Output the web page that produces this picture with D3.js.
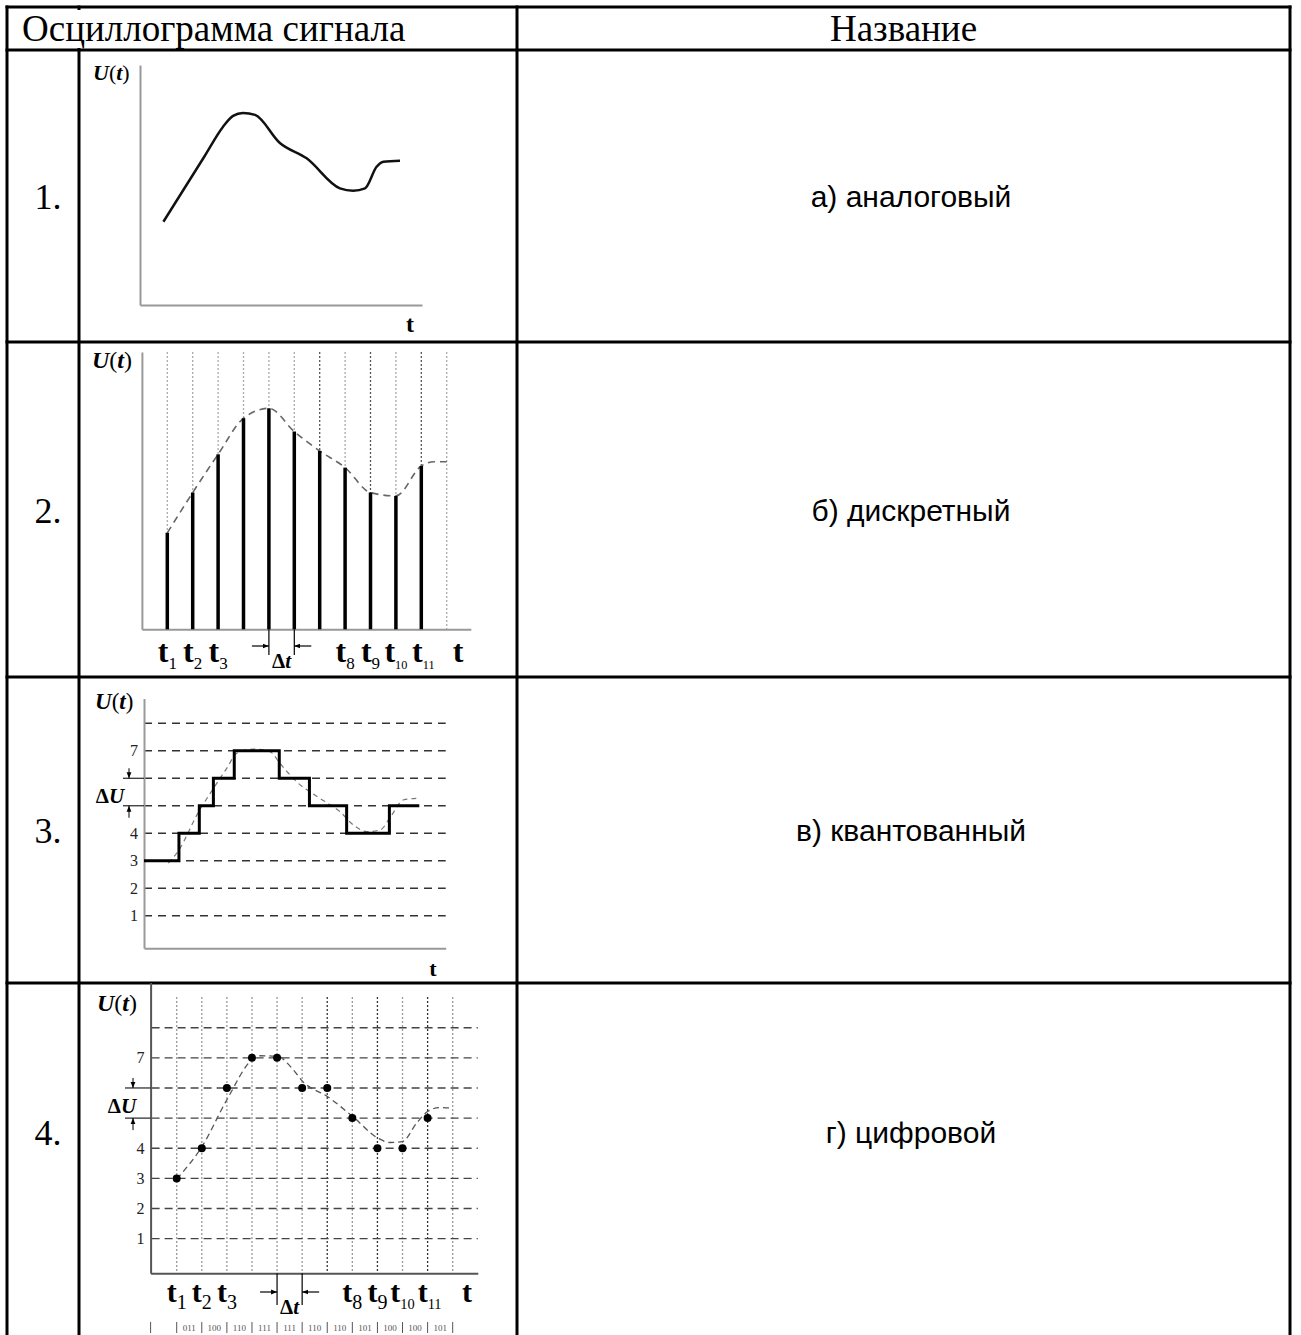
<!DOCTYPE html>
<html>
<head>
<meta charset="utf-8">
<script src="https://cdn.jsdelivr.net/npm/d3@7"></script>
<style>
  body { margin: 0; background: #fff; }
  svg { display: block; }
  text { font-family: "Liberation Serif", "Times New Roman", serif; }
</style>
</head>
<body>
<div id="chart"></div>
<script>
// table text
var headers = ["Осциллограмма сигнала", "Название"];
var rowNumbers = ["1.", "2.", "3.", "4."];
var signalNames = ["а) аналоговый", "б) дискретный", "в) квантованный", "г) цифровой"];

// 1. analog signal
var analogT = [0.83, 2.30, 2.94, 3.30, 3.65, 4.08, 4.96, 5.91, 7.09, 7.56, 7.98, 8.39, 8.63, 9.22];
var analogU = [3.47, 6.22, 7.42, 7.88, 8.00, 7.92, 6.75, 6.11, 4.86, 4.76, 4.86, 5.76, 5.97, 6.01];

// 2. sampled signal
var sampleIdx = [1, 2, 3, 4, 5, 6, 7, 8, 9, 10, 11];
var sampleU = [3.48, 4.93, 6.31, 7.61, 7.97, 7.13, 6.43, 5.83, 4.93, 4.81, 5.89];
var sampleTailT = [11.5, 12];
var sampleTailU = [6.04, 6.04];
var gridIdx = [1, 2, 3, 4, 5, 6, 7, 8, 9, 10, 11, 12];
var darkIdx = [7, 9, 11];
var tickIdx = [1, 2, 3, 8, 9, 10, 11];
var tickSub = ["1", "2", "3", "8", "9", "10", "11"];

// 3. quantized signal
var levels = [1, 2, 3, 4, 5, 6, 7, 8];
var levelLabels = [1, 2, 3, 4, 7];
var stepEdges = [0, 1.39, 2.2, 2.76, 3.59, 5.38, 6.58, 8.06, 9.76, 10.95];
var stepLevels = [3, 4, 5, 6, 7, 6, 5, 4, 5, 5];
var quantCurveT = [0.97, 1.43, 2.10, 2.76, 3.29, 3.69, 4.35, 5.01, 5.41, 6.07, 7.0, 7.8, 8.33, 8.86, 9.39, 9.85, 10.31, 10.85];
var quantCurveU = [2.91, 3.45, 4.66, 5.63, 6.36, 6.91, 7.06, 6.97, 6.54, 5.87, 5.27, 4.78, 4.30, 4.06, 4.12, 4.66, 5.21, 5.27];

// 4. digital signal
var digitalU = [3, 4, 6, 7, 7, 6, 6, 5, 4, 4, 5];
var digitalCodes = ["011", "100", "110", "111", "111", "110", "110", "101", "100", "100", "101"];
var digCurveT = [1.0, 2.01, 3.0, 4.01, 4.32, 5.01, 5.65, 6.02, 7.0, 8.02, 9.01, 9.5, 9.99, 10.56, 11.0, 11.49, 11.96];
var digCurveU = [2.98, 4.06, 5.61, 6.94, 7.07, 7.05, 6.6, 6.22, 5.72, 5.05, 4.34, 4.19, 4.22, 4.83, 5.22, 5.35, 5.33];

var W = 1301, H = 1335;
var colX = [7, 79, 517, 1290];
var rowY = [7, 50, 342, 677, 983, 1345];

var svg = d3.select("#chart").append("svg")
  .attr("width", W).attr("height", H);
svg.append("rect").attr("width", W).attr("height", H).attr("fill", "#fff");

var defs = svg.append("defs");
defs.append("marker").attr("id", "arr")
  .attr("viewBox", "0 0 10 10").attr("refX", 10).attr("refY", 5)
  .attr("markerWidth", 6).attr("markerHeight", 6).attr("orient", "auto-start-reverse")
  .attr("markerUnits", "userSpaceOnUse")
  .append("path").attr("d", "M0,1L10,5L0,9Z").attr("fill", "#000");

// ---------- table ----------
var table = svg.append("g");
colX.forEach(function (x, i) {
  table.append("line").attr("x1", x).attr("x2", x)
    .attr("y1", rowY[0] - 1.5).attr("y2", H + 5)
    .attr("stroke", "#000").attr("stroke-width", 3);
});
rowY.forEach(function (y, i) {
  table.append("line").attr("x1", colX[0] - 1.5).attr("x2", colX[3] + 1.5)
    .attr("y1", y).attr("y2", y)
    .attr("stroke", "#000").attr("stroke-width", 3);
});
// header row spans first two columns
table.append("rect").attr("x", colX[1] - 3).attr("y", rowY[0] + 3)
  .attr("width", 6).attr("height", rowY[1] - rowY[0] - 5).attr("fill", "#fff");

table.append("text").attr("x", 22).attr("y", 41)
  .attr("font-size", 37).text(headers[0]);
table.append("text").attr("x", (colX[2] + colX[3]) / 2).attr("y", 41)
  .attr("text-anchor", "middle").attr("font-size", 37).text(headers[1]);

rowNumbers.forEach(function (d, i) {
  var cy = (rowY[i + 1] + rowY[i + 2]) / 2;
  if (i == 3) cy = 1132;
  table.append("text").attr("x", 48).attr("y", cy + 13)
    .attr("text-anchor", "middle").attr("font-size", 36).text(d);
  table.append("text").attr("x", 911).attr("y", cy + 11)
    .attr("text-anchor", "middle").attr("font-size", 30)
    .style("font-family", "'Liberation Sans', Arial, sans-serif").text(signalNames[i]);
});

// ---------- helpers ----------
function axes(g, x, y, x0, x1, y0, y1, color, width) {
  var xs = d3.scaleLinear().domain([x0, x1]).range([x(x0), x(x1)]);
  var ys = d3.scaleLinear().domain([y0, y1]).range([y(y0), y(y1)]);
  g.append("g").attr("class", "ax").attr("transform", "translate(0," + y(y0) + ")")
    .call(d3.axisBottom(xs).tickValues([]).tickSizeOuter(0));
  g.append("g").attr("class", "ax").attr("transform", "translate(" + x(x0) + ",0)")
    .call(d3.axisLeft(ys).tickValues([]).tickSizeOuter(0));
  g.selectAll(".ax .domain").attr("stroke", color).attr("stroke-width", width);
}

function uLabel(g, x, y, size) {
  var t = g.append("text").attr("x", x).attr("y", y).attr("font-size", size)
    .attr("font-weight", "bold").attr("font-style", "italic");
  t.append("tspan").text("U");
  t.append("tspan").attr("font-style", "normal").attr("font-weight", "normal").text("(");
  t.append("tspan").text("t");
  t.append("tspan").attr("font-style", "normal").attr("font-weight", "normal").text(")");
}

function tLabels(g, x, baseline, size, subSize, lastX) {
  tickIdx.forEach(function (d, i) {
    var small = tickSub[i].length > 1;
    var t = g.append("text").attr("x", x(d) + (d == 11 ? 2 : 0)).attr("y", baseline)
      .attr("text-anchor", "middle").attr("font-size", size).attr("font-weight", "bold");
    t.append("tspan").text("t");
    t.append("tspan").attr("font-size", small ? subSize * 0.72 : subSize).attr("font-weight", "normal")
      .attr("dy", size * 0.22).text(tickSub[i]);
  });
  g.append("text").attr("x", lastX).attr("y", baseline).attr("text-anchor", "middle")
    .attr("font-size", size).attr("font-weight", "bold").text("t");
}

function deltaT(g, x, yAxis, yEnd, yArrow, baseline, size) {
  [5, 6].forEach(function (d, i) {
    g.append("line").attr("x1", x(d)).attr("x2", x(d)).attr("y1", yAxis).attr("y2", yEnd)
      .attr("stroke", "#000").attr("stroke-width", 1.2);
    var from = i == 0 ? x(d) - 17 : x(d) + 17;
    g.append("line").attr("x1", from).attr("x2", x(d)).attr("y1", yArrow).attr("y2", yArrow)
      .attr("stroke", "#000").attr("stroke-width", 1.2).attr("marker-end", "url(#arr)");
  });
  var t = g.append("text").attr("x", (x(5) + x(6)) / 2).attr("y", baseline)
    .attr("text-anchor", "middle").attr("font-size", size).attr("font-weight", "bold");
  t.append("tspan").text("Δ");
  t.append("tspan").attr("font-style", "italic").text("t");
}

function deltaU(g, y, xLine0, xAxis, xArrow, labelX, baseline, size) {
  [5, 6].forEach(function (d) {
    g.append("line").attr("x1", xLine0).attr("x2", xAxis).attr("y1", y(d)).attr("y2", y(d))
      .attr("stroke", "#222").attr("stroke-width", 1.2);
  });
  g.append("line").attr("x1", xArrow).attr("x2", xArrow).attr("y1", y(6) - 10).attr("y2", y(6))
    .attr("stroke", "#000").attr("stroke-width", 1).attr("marker-end", "url(#arr)");
  g.append("line").attr("x1", xArrow).attr("x2", xArrow).attr("y1", y(5) + 12).attr("y2", y(5))
    .attr("stroke", "#000").attr("stroke-width", 1).attr("marker-end", "url(#arr)");
  var t = g.append("text").attr("x", labelX).attr("y", baseline)
    .attr("text-anchor", "middle").attr("font-size", size).attr("font-weight", "bold");
  t.append("tspan").text("Δ");
  t.append("tspan").attr("font-style", "italic").text("U");
}

function levelTicks(g, y, xAxis, size) {
  g.append("g").attr("transform", "translate(" + xAxis + ",0)")
    .call(d3.axisLeft(y).tickValues(levelLabels).tickSize(0).tickPadding(4).tickFormat(d3.format("d")))
    .call(function (a) { a.select(".domain").remove(); })
    .selectAll("text").attr("font-size", size).attr("fill", "#222")
    .style("font-family", "'Liberation Serif', serif");
}

// ---------- 1. analog ----------
var g1 = svg.append("g");
var x1 = d3.scaleLinear().domain([0, 10]).range([140, 422]);
var y1 = d3.scaleLinear().domain([0, 10]).range([305, 65]);
axes(g1, x1, y1, 0, 10, 0, 10, "#999", 2);
g1.append("path").datum(analogT.map(function (t, i) { return [t, analogU[i]]; }))
  .attr("fill", "none").attr("stroke", "#111").attr("stroke-width", 2.5)
  .attr("d", d3.line().x(function (d) { return x1(d[0]); }).y(function (d) { return y1(d[1]); })
    .curve(d3.curveMonotoneX));
uLabel(g1, 93, 80, 22);
g1.append("text").attr("x", 410).attr("y", 332).attr("text-anchor", "middle")
  .attr("font-size", 24).attr("font-weight", "bold").text("t");

// ---------- 2. sampled ----------
var g2 = svg.append("g");
var x2 = d3.scaleLinear().domain([1, 12]).range([167.3, 446.7]);
var y2 = d3.scaleLinear().domain([0, 10]).range([629.3, 352]);
g2.selectAll(".vg").data(gridIdx).enter().append("line")
  .attr("x1", x2).attr("x2", x2).attr("y1", y2(10)).attr("y2", y2(0))
  .attr("stroke", function (d) { return darkIdx.indexOf(d) != -1 ? "#555" : "#aaa"; })
  .attr("stroke-width", 1.3).attr("stroke-dasharray", "2,2");
axes(g2, x2, y2, 0, 12.95, 0, 10, "#999", 2);
g2.append("path")
  .datum(sampleIdx.concat(sampleTailT).map(function (t, i) { return [t, sampleU.concat(sampleTailU)[i]]; }))
  .attr("fill", "none").attr("stroke", "#666").attr("stroke-width", 1.6).attr("stroke-dasharray", "7,5")
  .attr("d", d3.line().x(function (d) { return x2(d[0]); }).y(function (d) { return y2(d[1]); })
    .curve(d3.curveMonotoneX));
g2.selectAll(".bar").data(sampleIdx).enter().append("line")
  .attr("x1", x2).attr("x2", x2).attr("y1", y2(0))
  .attr("y2", function (d, i) { return y2(sampleU[i]); })
  .attr("stroke", "#000").attr("stroke-width", 3.5);
uLabel(g2, 92, 368, 24);
tLabels(g2, x2, 662, 32, 17, 458);
deltaT(g2, x2, y2(0), 655, 646, 668, 21);

// ---------- 3. quantized ----------
var g3 = svg.append("g");
var x3 = d3.scaleLinear().domain([0, 12]).range([144, 445.7]);
var y3 = d3.scaleLinear().domain([0, 8]).range([943.2, 723.3]);
g3.selectAll(".hg").data(levels).enter().append("line")
  .attr("x1", x3(0)).attr("x2", x3(12)).attr("y1", y3).attr("y2", y3)
  .attr("stroke", "#333").attr("stroke-width", 1.4).attr("stroke-dasharray", "8,6");
axes(g3, x3, y3, 0, 12, -0.18, 8.9, "#999", 2);
g3.append("path").datum(quantCurveT.map(function (t, i) { return [t, quantCurveU[i]]; }))
  .attr("fill", "none").attr("stroke", "#777").attr("stroke-width", 1.2).attr("stroke-dasharray", "5,4")
  .attr("d", d3.line().x(function (d) { return x3(d[0]); }).y(function (d) { return y3(d[1]); })
    .curve(d3.curveMonotoneX));
g3.append("path").datum(stepEdges.map(function (t, i) { return [t, stepLevels[i]]; }))
  .attr("fill", "none").attr("stroke", "#000").attr("stroke-width", 3)
  .attr("d", d3.line().x(function (d) { return x3(d[0]); }).y(function (d) { return y3(d[1]); })
    .curve(d3.curveStepAfter));
levelTicks(g3, y3, x3(0) - 2, 16);
deltaU(g3, y3, 123, x3(0), 129, 110, 803, 21);
uLabel(g3, 95, 709, 23);
g3.append("text").attr("x", 433).attr("y", 976).attr("text-anchor", "middle")
  .attr("font-size", 22).attr("font-weight", "bold").text("t");

// ---------- 4. digital ----------
var g4 = svg.append("g");
var x4 = d3.scaleLinear().domain([1, 12]).range([176.7, 452.7]);
var y4 = d3.scaleLinear().domain([0, 8]).range([1268.8, 1027.7]);
g4.selectAll(".vg").data(gridIdx).enter().append("line")
  .attr("x1", x4).attr("x2", x4).attr("y1", 997).attr("y2", y4(-0.15))
  .attr("stroke", function (d) { return darkIdx.indexOf(d) != -1 ? "#333" : "#999"; })
  .attr("stroke-width", 1.3).attr("stroke-dasharray", "2,2");
g4.selectAll(".hg").data(levels).enter().append("line")
  .attr("x1", x4(0)).attr("x2", x4(13)).attr("y1", y4).attr("y2", y4)
  .attr("stroke", "#444").attr("stroke-width", 1.4).attr("stroke-dasharray", "8,5");
axes(g4, x4, y4, -0.04, 13, -0.15, 9.5, "#555", 2);
g4.append("path").datum(digCurveT.map(function (t, i) { return [t, digCurveU[i]]; }))
  .attr("fill", "none").attr("stroke", "#555").attr("stroke-width", 1.3).attr("stroke-dasharray", "6,4")
  .attr("d", d3.line().x(function (d) { return x4(d[0]); }).y(function (d) { return y4(d[1]); })
    .curve(d3.curveMonotoneX));
g4.selectAll(".dot").data(sampleIdx).enter().append("circle")
  .attr("cx", x4).attr("cy", function (d, i) { return y4(digitalU[i]); })
  .attr("r", 4).attr("fill", "#000");
levelTicks(g4, y4, x4(-0.04) - 2, 16);
deltaU(g4, y4, 125, x4(-0.04), 133, 122, 1113, 21);
uLabel(g4, 97, 1011, 24);
tLabels(g4, x4, 1302, 30, 20, 467);
deltaT(g4, x4, y4(-0.15), 1305, 1292, 1314, 21);
// code row
var codeY = 1331;
g4.append("line").attr("x1", x4(-0.04)).attr("x2", x4(-0.04)).attr("y1", codeY - 9).attr("y2", codeY + 2)
  .attr("stroke", "#555").attr("stroke-width", 1);
gridIdx.forEach(function (d) {
  g4.append("line").attr("x1", x4(d)).attr("x2", x4(d)).attr("y1", codeY - 9).attr("y2", codeY + 2)
    .attr("stroke", "#555").attr("stroke-width", 1);
});
g4.selectAll(".code").data(digitalCodes).enter().append("text")
  .attr("x", function (d, i) { return (x4(i + 1) + x4(i + 2)) / 2; }).attr("y", codeY)
  .attr("text-anchor", "middle").attr("font-size", 9).attr("fill", "#555").text(function (d) { return d; });
</script>
</body>
</html>
